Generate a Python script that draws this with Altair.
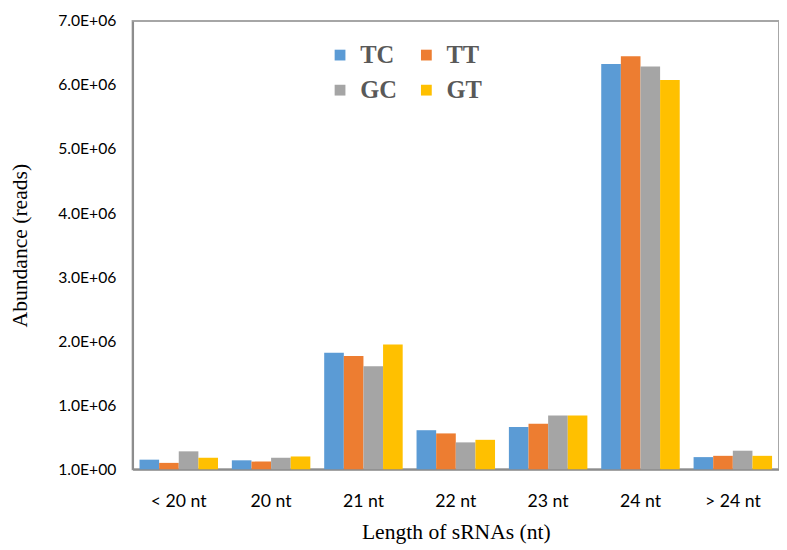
import altair as alt
import pandas as pd

categories = ["< 20 nt", "20 nt", "21 nt", "22 nt", "23 nt", "24 nt", "> 24 nt"]
series = ["TC", "TT", "GC", "GT"]
colors = ["#5B9BD5", "#ED7D31", "#A5A5A5", "#FFC000"]
TC = [0.15e6, 0.14e6, 1.82e6, 0.61e6, 0.66e6, 6.33e6, 0.19e6]
TT = [0.10e6, 0.12e6, 1.77e6, 0.56e6, 0.71e6, 6.45e6, 0.21e6]
GC = [0.28e6, 0.18e6, 1.61e6, 0.42e6, 0.84e6, 6.29e6, 0.29e6]
GT = [0.18e6, 0.20e6, 1.95e6, 0.46e6, 0.84e6, 6.08e6, 0.21e6]

rows = []
for s, vals in zip(series, [TC, TT, GC, GT]):
    for c, v in zip(categories, vals):
        rows.append({"length": c, "sample": s, "reads": v})
df = pd.DataFrame(rows)

chart = alt.Chart(df).mark_bar().encode(
    x=alt.X("length:N", sort=categories,
            scale=alt.Scale(paddingInner=0.15, paddingOuter=0.075),
            axis=alt.Axis(title="Length of sRNAs (nt)", labelAngle=0, ticks=False,
                          labelFont="Lato", labelFontSize=18, labelColor="#000000",
                          labelPadding=24, titleFont="Liberation Serif", titleFontSize=22,
                          titleFontWeight="normal", titleColor="#000000", titlePadding=12,
                          domainColor="#8C8C8C", domainWidth=2)),
    xOffset=alt.XOffset("sample:N", sort=series, scale=alt.Scale(paddingInner=0, paddingOuter=0)),
    y=alt.Y("reads:Q", scale=alt.Scale(domain=[0, 7e6], nice=False),
            axis=alt.Axis(title="Abundance (reads)", values=[0, 1e6, 2e6, 3e6, 4e6, 5e6, 6e6, 7e6],
                          labelExpr="datum.value == 0 ? '1.0E+00' : format(datum.value/1e6, '.1f') + 'E+06'",
                          grid=False, ticks=False, labelFont="Lato", labelFontSize=16,
                          labelColor="#000000", labelPadding=17,
                          titleFont="Liberation Serif", titleFontSize=22, titleFontWeight="normal",
                          titleColor="#000000", titlePadding=27,
                          domainColor="#8C8C8C", domainWidth=2)),
    color=alt.Color("sample:N", sort=series,
                    scale=alt.Scale(domain=series, range=colors),
                    legend=alt.Legend(title=None, orient="none", legendX=199, legendY=22,
                                      columns=2, direction="horizontal",
                                      columnPadding=17, rowPadding=10,
                                      symbolType="square", symbolSize=121, symbolStrokeWidth=0,
                                      labelFont="Liberation Serif", labelFontSize=25,
                                      labelFontWeight="bold", labelColor="#595959",
                                      labelOffset=8)),
).properties(
    width=659, height=457, padding={"left": 0, "top": 0, "right": 0, "bottom": 0}
).configure_view(stroke="#A6A6A6", strokeWidth=2)

chart.save("out.html", embed_options={"renderer": "svg", "actions": False})
